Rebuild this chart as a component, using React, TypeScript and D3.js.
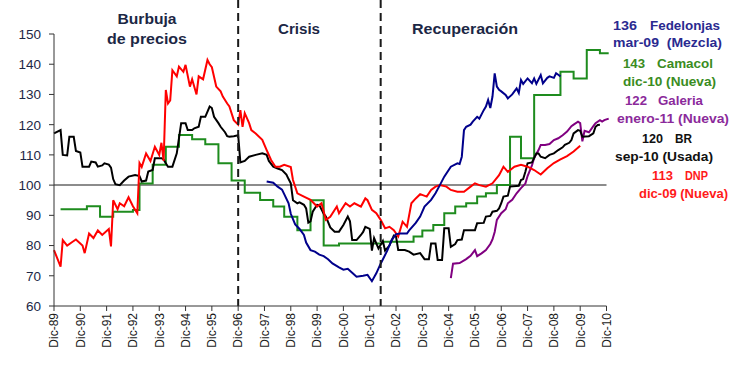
import React from "react";
import * as d3 from "d3";

// Months counted from Dic-89 (0) to Dic-10 (252)
const yearLabels = ["Dic-89","Dic-90","Dic-91","Dic-92","Dic-93","Dic-94","Dic-95","Dic-96","Dic-97","Dic-98","Dic-99","Dic-00","Dic-01","Dic-02","Dic-03","Dic-04","Dic-05","Dic-06","Dic-07","Dic-08","Dic-09","Dic-10"];
const yTicks = [60, 70, 80, 90, 100, 110, 120, 130, 140, 150];
const periodBreaks = [84, 149];

// DNP (Nueva) - red
const dnp: [number, number][] = [
  [0,78.5],[3,73],[4,81.8],[6,80],[8,81],[10,82],[13,80],[14,77.5],[16,84],[18,82.5],[20,85],[22,83.5],[25,85.5],[26,79.7],[27,95],[29,92],[30,94],[32,93],[34,96],[36,93],[38,90.7],[39,107.3],[40,106],[42,110.5],[44,108],[46,112.7],[48,110],[49,114],[50,108],[51,131.5],[52,127],[53,128],[54,138],[56,136],[57,139.2],[59,137.5],[60,139.8],[62,132.6],[63,135],[65,130],[66,136],[68,135],[70,141.4],[71,140],[72,139],[74,132.6],[76,131],[77,129.3],[79,127],[80,126],[82,121.5],[84,120],[85,124.8],[86,119.3],[87,123.8],[89,120.5],[90,118.2],[92,117.1],[95,115],[97,111.6],[99,108.3],[101,106.1],[103,106.1],[105,106.7],[108,106],[109,101.7],[111,97.3],[114,96.2],[117,95.1],[120,92.9],[122,94],[124,88.5],[126,89.5],[129,92.9],[130,90.7],[133,94],[135,92.9],[137,94],[140,92.9],[142,95.6],[143,95],[145,91.8],[147,90.7],[149,88.5],[151,85.7],[153,86.2],[155,85.1],[157,83],[159,87.9],[161,86.2],[163,94],[165,95.6],[167,97],[170,96.2],[172,98.4],[174,99.5],[176,100],[179,99.5],[181,98.4],[184,97.8],[187,97.8],[190,99.5],[192,100.6],[194,100],[197,99.5],[200,100.6],[203,103.3],[205,106.1],[207,104.4],[210,106.1],[213,106.7],[216,106.1],[219,105],[222,103.5],[225,105.6],[228,107.3],[231,108.5],[234,109.6],[237,111.1],[240,113]
];

// BR (Usada) - black
const br: [number, number][] = [
  [0,117.1],[3,118.2],[4,110],[6,109.8],[7,116],[9,116],[10,111.3],[12,110.8],[13,106.1],[16,106.1],[17,107.8],[19,107.5],[20,106.1],[22,106.5],[23,107.2],[25,106.8],[26,105.8],[27,102],[28,100.3],[30,100],[32,101.5],[34,102.8],[37,103.3],[39,103],[40,101.2],[42,101.5],[43,104.5],[45,105],[46,108.9],[49,108.9],[50,108.5],[51,107.2],[52,106.1],[54,106.1],[56,110.5],[58,120.5],[60,120.5],[61,118.2],[63,118.2],[64,118.8],[66,119.3],[67,122.6],[69,122.6],[71,126],[72,125.5],[73,122.6],[75,120.5],[76,119.3],[78,117.5],[79,116.2],[80,116],[82,116.2],[84,116.5],[85,107.5],[87,108],[89,109.4],[92,110],[95,110.5],[97,110],[98,108],[100,106.1],[102,105.5],[104,105],[106,103.5],[107,102],[108,100.6],[109,95],[111,94],[112,94.3],[114,93.5],[115,92.3],[116,87.6],[117,88],[118,91.2],[120,93.5],[121,93.4],[123,90.5],[124,89.6],[126,86],[128,84.6],[130,84.6],[132,86.8],[134,89.6],[135,88],[136,81.8],[138,81.8],[140,83.5],[141,84.5],[142,86.2],[144,85.5],[145,78.3],[146,82.5],[148,79],[150,81.5],[151,78.3],[153,80],[155,83.3],[156,83],[157,78.5],[160,78.5],[162,78],[164,77],[167,77.5],[169,75.5],[171,75.5],[172,80.7],[174,80.7],[175,75.2],[177,75.2],[178,85.7],[180,85.7],[181,79.6],[183,80.5],[184,81.8],[186,82],[187,85.1],[192,85.1],[193,87.4],[196,87.5],[197,89.6],[199,89.8],[200,91.2],[202,91.5],[203,92.3],[204,94],[205,96.2],[207,96.5],[208,99.5],[212,99.8],[213,101.7],[214,102],[215,104.4],[216,107.2],[218,107.5],[220,110.5],[221,110.5],[222,109.4],[224,108.9],[226,110],[228,110.5],[230,111.6],[232,112.5],[233,113.3],[235,114],[236,114.9],[237,117.1],[239,118.2],[240,118],[241,116],[244,116.2],[246,117.1],[247,119.3],[248,119.9],[249,120]
];

// Camacol (Nueva) - green (quarterly steps)
const camacol: [number, number][] = [
  [3,92],[15,93],[21,89.5],[27,91.2],[36,91.8],[39,100.5],[45,106.7],[51,112.7],[57,116.6],[63,115.2],[69,113.5],[75,107.2],[81,101.5],[87,97.5],[94,95.1],[100,92.9],[105,89.5],[111,85.1],[117,95],[123,80],[130,80.7],[150,81.3],[164,83],[168,85],[173,86.8],[178,90.7],[183,92.9],[188,94],[193,96.2],[197,97.3],[202,100],[208,116],[213,108.9],[219,129.8],[231,137.5],[237,135.3],[243,144.7],[249,143.6],[253,143.6]
];

// Fedelonjas (Mezcla) - blue
const fedelonjas: [number, number][] = [
  [97,101.2],[100,100.8],[102,99.5],[104,98.5],[105,97],[107,94],[108,90.5],[110,87],[112,85.5],[114,83.5],[115,81],[117,78.5],[119,78],[121,77],[123,76.5],[125,75.5],[127,74.1],[130,72.8],[132,72],[134,72.3],[136,71],[138,69.7],[141,70],[143,70.3],[145,68.2],[147,70.8],[149,74],[152,78.3],[154,81.8],[156,83.8],[158,84],[161,84],[162,85],[165,87.5],[167,89.6],[169,92.9],[172,95.1],[174,97.3],[176,100],[178,102.8],[181,106.1],[184,107.2],[185,107],[186,109.4],[187,118.2],[188,119.3],[190,120],[191,121],[193,122.6],[194,122],[196,124.8],[197,126],[198,128.2],[199,125.5],[200,129.3],[201,137],[202,132.6],[203,131.5],[204,131],[206,129.8],[207,128.7],[209,130],[211,132],[212,130.5],[213,134.8],[214,133.5],[216,135.3],[218,133.7],[219,135.3],[220,133.5],[222,136.4],[223,133.7],[225,135.5],[226,136],[228,135.5],[229,137],[230,136.5],[231,136]
];

// Galeria (Nueva) - purple
const galeria: [number, number][] = [
  [181,69.2],[182,74],[185,74.2],[188,75.5],[190,76.6],[192,78.5],[193,76.5],[195,77.4],[197,78.5],[199,80.5],[200,82],[201,84.5],[202,88.5],[204,90.7],[206,92],[207,94],[209,95.1],[211,97.3],[213,99],[215,100.5],[216,103],[218,106.5],[219,109],[221,111.6],[222,113.3],[224,113.3],[226,113.6],[228,114.9],[230,115.5],[232,116.5],[234,117.7],[236,119.5],[237,120],[239,121],[240,120.5],[241,114.5],[242,118],[244,117.5],[246,119.5],[247,120.5],[249,121.5],[250,121],[251,121.5],[253,122]
];

const W = 743, H = 377;
const x = d3.scaleLinear().domain([0, 252]).range([54, 606.5]);
const y = d3.scaleLinear().domain([60, 150]).range([306, 34]);

const line = d3.line<[number, number]>().x(d => x(d[0])).y(d => y(d[1]));
const stepLine = d3.line<[number, number]>().x(d => x(d[0])).y(d => y(d[1])).curve(d3.curveStepAfter);

const FONT = "'Liberation Sans', Arial, sans-serif";
const NAVY = "#1c2745";

const legend = [
  { n: "136", nx: [613, 24], name: "Fedelonjas", mx: [650, 70], sub: "mar-09  (Mezcla)", sx: [613, 109], y1: 30, y2: 47, color: "#2a2a90" },
  { n: "143", nx: [623, 22], name: "Camacol", mx: [657, 56], sub: "dic-10 (Nueva)", sx: [623, 93], y1: 68, y2: 86, color: "#3a8c22" },
  { n: "122", nx: [625, 22], name: "Galeria", mx: [658, 45], sub: "enero-11 (Nueva)", sx: [617, 112], y1: 105, y2: 123, color: "#8b2a9b" },
  { n: "120", nx: [642, 21], name: "BR", mx: [675, 17], sub: "sep-10 (Usada)", sx: [615, 98], y1: 143, y2: 161, color: "#111111" },
  { n: "113", nx: [652, 21], name: "DNP", mx: [685, 23], sub: "dic-09 (Nueva)", sx: [639, 89], y1: 180, y2: 198, color: "#ff1a1a" },
];

export default function App() {
  return (
    <svg width={W} height={H} style={{ position: "absolute", left: 0, top: 0, background: "#fff" }} fontFamily={FONT}>
      <rect x={0} y={0} width={W} height={H} fill="#fff" />
      {/* reference line at 100 */}
      <line x1={x(0)} x2={x(252)} y1={y(100)} y2={y(100)} stroke="#8c8c8c" strokeWidth={2} />
      {/* series */}
      <path d={stepLine(camacol) || ""} fill="none" stroke="#1e8c1e" strokeWidth={2} />
      <path d={line(galeria) || ""} fill="none" stroke="#800080" strokeWidth={2} />
      <path d={line(br) || ""} fill="none" stroke="#000" strokeWidth={2} />
      <path d={line(dnp) || ""} fill="none" stroke="#ff0000" strokeWidth={2} />
      <path d={line(fedelonjas) || ""} fill="none" stroke="#00008b" strokeWidth={2} />
      {/* period dividers */}
      {periodBreaks.map(m => (
        <line key={m} x1={x(m)} x2={x(m)} y1={0} y2={306} stroke="#1a1a1a" strokeWidth={2} strokeDasharray="8,5" />
      ))}
      {/* y axis */}
      <line x1={54} x2={54} y1={y(150)} y2={y(60)} stroke="#333" strokeWidth={1} />
      {yTicks.map(t => (
        <g key={t}>
          <line x1={49} x2={54} y1={y(t)} y2={y(t)} stroke="#333" strokeWidth={1} />
          <text x={41} y={y(t)} dy="0.36em" textAnchor="end" fontSize={13.5} fill={NAVY}>{t}</text>
        </g>
      ))}
      {/* x axis */}
      <line x1={x(0)} x2={x(252)} y1={306} y2={306} stroke="#333" strokeWidth={1} />
      {yearLabels.map((lab, i) => (
        <g key={lab}>
          <line x1={x(i * 12)} x2={x(i * 12)} y1={306} y2={311} stroke="#333" strokeWidth={1} />
          <text transform={`translate(${x(i * 12)},313) rotate(-90)`} dy="0.36em" textAnchor="end" fontSize={12} fill="#1a1a1a">{lab}</text>
        </g>
      ))}
      {/* period titles */}
      <text x={147} y={24} textAnchor="middle" fontSize={14} fontWeight="bold" fill={NAVY} textLength={59} lengthAdjust="spacingAndGlyphs">Burbuja</text>
      <text x={147} y={43.5} textAnchor="middle" fontSize={14} fontWeight="bold" fill={NAVY} textLength={80} lengthAdjust="spacingAndGlyphs">de precios</text>
      <text x={299} y={34} textAnchor="middle" fontSize={14} fontWeight="bold" fill={NAVY} textLength={42} lengthAdjust="spacingAndGlyphs">Crisis</text>
      <text x={465} y={33.5} textAnchor="middle" fontSize={14} fontWeight="bold" fill={NAVY} textLength={106} lengthAdjust="spacingAndGlyphs">Recuperación</text>
      {/* legend */}
      {legend.map(l => (
        <g key={l.name} fontSize={12} fontWeight="bold" fill={l.color}>
          <text x={l.nx[0]} y={l.y1} textLength={l.nx[1]} lengthAdjust="spacingAndGlyphs">{l.n}</text>
          <text x={l.mx[0]} y={l.y1} textLength={l.mx[1]} lengthAdjust="spacingAndGlyphs">{l.name}</text>
          <text x={l.sx[0]} y={l.y2} textLength={l.sx[1]} lengthAdjust="spacingAndGlyphs" style={{ whiteSpace: "pre" }}>{l.sub}</text>
        </g>
      ))}
    </svg>
  );
}
